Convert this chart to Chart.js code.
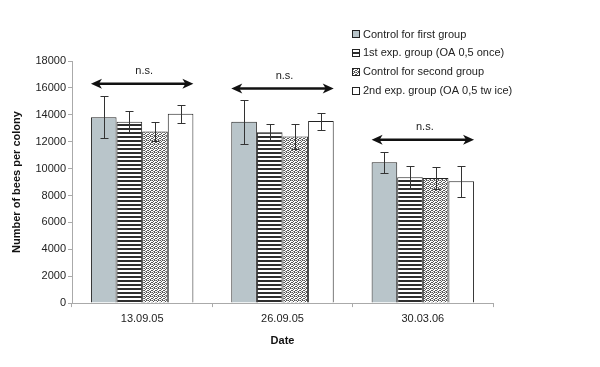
<!DOCTYPE html>
<html>
<head>
<meta charset="utf-8">
<script src="https://cdn.jsdelivr.net/npm/chart.js@4.4.0/dist/chart.umd.min.js"></script>
<style>
html,body{margin:0;padding:0;background:#fff;}
#wrap{position:relative;width:600px;height:367px;}
</style>
</head>
<body>
<div id="wrap"><canvas id="c" width="600" height="367"></canvas></div>
<script>
const categories = ['13.09.05', '26.09.05', '30.03.06'];
const seriesNames = ['Control for first group', '1st exp. group (OA 0,5 once)', 'Control for second group', '2nd exp. group (OA 0,5 tw ice)'];
const control1 = [13820, 13480, 10480];
const exp1 = [13480, 12710, 9360];
const control2 = [12760, 12390, 9310];
const exp2 = [14080, 13530, 9060];
const control1Err = [1550, 1620, 780];
const exp1Err = [780, 620, 870];
const control2Err = [680, 900, 840];
const exp2Err = [670, 640, 1170];
const nsLevels = [16300, 15950, 12150];
const yTicks = [0, 2000, 4000, 6000, 8000, 10000, 12000, 14000, 16000, 18000];

function makePattern(kind) {
  const c = document.createElement('canvas');
  const ctx = c.getContext('2d');
  if (kind === 'stripes') {
    c.width = 4; c.height = 4;
    ctx.fillStyle = '#ffffff'; ctx.fillRect(0, 0, 4, 4);
    ctx.fillStyle = '#2e2e2e'; ctx.fillRect(0, 0, 4, 2);
  } else if (kind === 'dots') {
    c.width = 4; c.height = 4;
    ctx.fillStyle = '#ffffff'; ctx.fillRect(0, 0, 4, 4);
    ctx.fillStyle = '#555555';
    ctx.fillRect(0, 0, 1, 1); ctx.fillRect(2, 0, 1, 1);
    ctx.fillRect(1, 1, 1, 1); ctx.fillRect(3, 2, 1, 1);
    ctx.fillRect(0, 2, 1, 1); ctx.fillRect(2, 3, 1, 1);
    ctx.fillStyle = '#999999';
    ctx.fillRect(3, 0, 1, 1); ctx.fillRect(1, 3, 1, 1);
  }
  return document.getElementById('c').getContext('2d').createPattern(c, 'repeat');
}

const fills = ['#b9c5ca', makePattern('stripes'), makePattern('dots'), '#ffffff'];
const values = [control1, exp1, control2, exp2];
const errs = [control1Err, exp1Err, control2Err, exp2Err];

const datasets = seriesNames.map((n, i) => ({
  label: n,
  data: values[i],
  backgroundColor: fills[i],
  borderColor: '#222222',
  borderWidth: 1,
  borderSkipped: 'bottom',
  categoryPercentage: 0.73,
  barPercentage: 1.0
}));

const extras = {
  id: 'extras',
  afterDatasetsDraw(chart) {
    const ctx = chart.ctx;
    const ys = chart.scales.y;
    ctx.save();
    // error bars
    ctx.strokeStyle = '#333333';
    ctx.lineWidth = 1;
    chart.data.datasets.forEach((ds, i) => {
      const meta = chart.getDatasetMeta(i);
      meta.data.forEach((bar, j) => {
        const x = Math.round(bar.x) + 0.5;
        const v = ds.data[j];
        const t = Math.round(ys.getPixelForValue(v + errs[i][j])) + 0.5;
        const b = Math.round(ys.getPixelForValue(v - errs[i][j])) + 0.5;
        ctx.beginPath();
        ctx.moveTo(x, t); ctx.lineTo(x, b);
        ctx.moveTo(x - 4, t); ctx.lineTo(x + 4, t);
        ctx.moveTo(x - 4, b); ctx.lineTo(x + 4, b);
        ctx.stroke();
      });
    });
    // n.s. arrows
    const first = chart.getDatasetMeta(0);
    const last = chart.getDatasetMeta(3);
    ctx.fillStyle = '#111111';
    ctx.strokeStyle = '#111111';
    categories.forEach((c, j) => {
      const b0 = first.data[j], b3 = last.data[j];
      const x1 = b0.x - b0.width / 2;
      const x2 = b3.x + b3.width / 2;
      const y = ys.getPixelForValue(nsLevels[j]);
      ctx.lineWidth = 2.5;
      ctx.beginPath();
      ctx.moveTo(x1 + 6, y); ctx.lineTo(x2 - 6, y);
      ctx.stroke();
      [[x1, 1], [x2, -1]].forEach(([ax, d]) => {
        ctx.beginPath();
        ctx.moveTo(ax, y);
        ctx.lineTo(ax + d * 11, y - 5);
        ctx.lineTo(ax + d * 8, y);
        ctx.lineTo(ax + d * 11, y + 5);
        ctx.closePath();
        ctx.fill();
      });
      ctx.font = '11px "Liberation Sans", Arial, sans-serif';
      ctx.textAlign = 'center';
      ctx.textBaseline = 'middle';
      ctx.fillStyle = '#222222';
      ctx.fillText('n.s.', (x1 + x2) / 2 + 2, y - 13);
      ctx.fillStyle = '#111111';
    });
    // legend
    const lx = 352, ly0 = 34, step = 18.9;
    ctx.font = '11px "Liberation Sans", Arial, sans-serif';
    ctx.textAlign = 'left';
    ctx.textBaseline = 'middle';
    seriesNames.forEach((n, i) => {
      const y = ly0 + i * step;
      ctx.fillStyle = fills[i];
      ctx.fillRect(lx, Math.round(y - 4), 8, 8);
      ctx.strokeStyle = '#222222';
      ctx.lineWidth = 1;
      ctx.strokeRect(lx + 0.5, Math.round(y - 4) + 0.5, 7, 7);
      ctx.fillStyle = '#222222';
      ctx.fillText(n, lx + 11, y + 0.5);
    });
    ctx.restore();
  }
};

new Chart(document.getElementById('c'), {
  type: 'bar',
  data: { labels: categories, datasets },
  options: {
    responsive: false,
    animation: false,
    layout: { padding: { top: 61, right: 107, bottom: 19.5, left: 2 } },
    plugins: { legend: { display: false }, tooltip: { enabled: false } },
    scales: {
      x: {
        grid: { display: true, drawOnChartArea: false, drawTicks: true, tickLength: 4, color: '#aaaaaa', offset: true },
        border: { color: '#aaaaaa' },
        ticks: { color: '#222222', font: { family: '"Liberation Sans", Arial, sans-serif', size: 11 }, padding: 5.5 },
        title: { display: true, text: 'Date', color: '#111111', font: { family: '"Liberation Sans", Arial, sans-serif', size: 11, weight: 'bold' }, padding: { top: 3, bottom: 0 } }
      },
      y: {
        min: 0, max: 18000,
        afterBuildTicks(scale) { scale.ticks = yTicks.map(v => ({ value: v })); },
        afterFit(scale) { scale.width = 70; },
        grid: { display: true, drawOnChartArea: false, drawTicks: true, tickLength: 4, color: '#aaaaaa' },
        border: { color: '#aaaaaa' },
        ticks: { color: '#222222', font: { family: '"Liberation Sans", Arial, sans-serif', size: 11 }, padding: 2, callback: (v) => String(v) },
        title: { display: true, text: 'Number of bees per colony', color: '#111111', font: { family: '"Liberation Sans", Arial, sans-serif', size: 11, weight: 'bold' }, padding: { top: 8, bottom: 0 } }
      }
    }
  },
  plugins: [extras]
});
</script>
</body>
</html>
